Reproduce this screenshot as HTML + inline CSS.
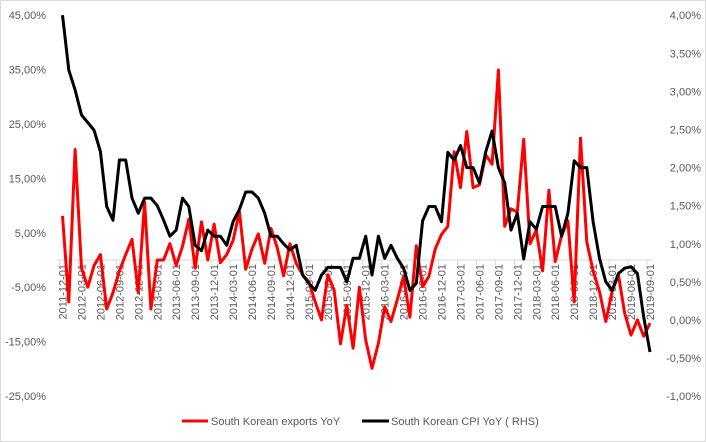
<!DOCTYPE html>
<html><head><meta charset="utf-8"><style>
html,body{margin:0;padding:0;background:#fff}
svg{display:block;font-family:"Liberation Sans",sans-serif}
</style></head><body>
<svg id="chart" width="706" height="442" viewBox="0 0 706 442">
<rect x="0.5" y="0.5" width="705" height="441" fill="#fff" stroke="#d9d9d9"/>
<g id="axes"></g><g id="series"></g>
<g>
<line x1="182" y1="421" x2="208" y2="421" stroke="#ff0000" stroke-width="3"/>
<text x="211" y="425" font-size="11" fill="#595959">South Korean exports YoY</text>
<line x1="362" y1="421" x2="389" y2="421" stroke="#000" stroke-width="3"/>
<text x="391" y="425" font-size="11" fill="#595959">South Korean CPI YoY ( RHS)</text>
</g>
</svg>
<script>
const startYear = 2011, startMonth = 12;
const exportsYoY = [8.1,-7.7,20.3,-1.5,-5,-1,1,-9,-6,-2,1,3.8,-6,10.7,-9,0,0,3,-1,2.5,7.5,-1.5,7,0,6.6,-0.5,1,3.6,8.9,-1.7,2,4.8,-0.6,5.8,2.2,-2.9,3,-0.6,-2.7,-4,-7.7,-11,-2.7,-5.5,-15.4,-8.3,-16.2,-5,-14.7,-19.9,-15.3,-8.6,-11.3,-7.3,-3,-10.5,2.6,-4.9,-3,2,4.7,6.2,19.9,13.3,23.6,13.3,13.8,19.3,17.6,34.9,6.2,9.4,8.8,22.2,3,5.5,-2,12.8,-0.3,4.5,7.2,-7.7,22.4,3.3,-2,-5.8,-11.3,-5.8,-2.7,-9.8,-13.8,-11,-14,-11.6];
const cpiYoY = [4.0,3.28,3.02,2.69,2.59,2.49,2.21,1.49,1.31,2.1,2.1,1.6,1.4,1.6,1.6,1.5,1.31,1.1,1.18,1.6,1.49,0.98,0.91,1.18,1.1,1.1,0.98,1.29,1.45,1.68,1.68,1.6,1.4,1.1,1.1,1.0,0.92,0.98,0.59,0.48,0.39,0.59,0.69,0.69,0.69,0.5,0.81,0.81,1.1,0.59,1.1,0.81,0.98,0.81,0.68,0.39,0.48,1.3,1.49,1.49,1.29,2.2,2.1,2.29,2.0,2.0,1.8,2.21,2.48,2.0,1.8,1.18,1.4,0.8,1.29,1.19,1.49,1.49,1.49,1.1,1.4,2.09,2.0,2.0,1.29,0.81,0.5,0.39,0.61,0.68,0.7,0.61,0.04,-0.42];
const leftTicks = [45,35,25,15,5,-5,-15,-25];
const rightTicks = [4.0,3.5,3.0,2.5,2.0,1.5,1.0,0.5,0.0,-0.5,-1.0];
const NS='http://www.w3.org/2000/svg';
const n = exportsYoY.length;
const xS = i => 62.5 + i*(650-62.5)/(n-1);
const yL = v => 260 - v*5.443;
const yR = v => 320 - v*76.2;
const axes = document.getElementById('axes'), series = document.getElementById('series');
function mk(t,a,p){const e=document.createElementNS(NS,t);for(const k in a)e.setAttribute(k,a[k]);p.appendChild(e);return e;}
const fmt = v => v.toFixed(2).replace('.',',')+'%';
leftTicks.forEach(v=>{
  const t=mk('text',{x:46,y:yL(v)+4,'text-anchor':'end','font-size':11,fill:'#595959'},axes);
  t.textContent=fmt(v);
  
  
});
rightTicks.forEach(v=>{
  const t=mk('text',{x:701,y:yR(v)+4,'text-anchor':'end','font-size':11,fill:'#595959'},axes);
  t.textContent=fmt(v);
  
  
});
const ax=mk('line',{x1:57,y1:260,x2:653,y2:260,stroke:'#d9d9d9','stroke-width':1},axes);


for(let i=0;i<n;i+=3){
  const x=xS(i);
  const tk=mk('line',{x1:x-3,y1:260,x2:x-3,y2:265,stroke:'#d9d9d9'},axes);
  
  
  let m=startMonth+i, y=startYear+Math.floor((m-1)/12); m=((m-1)%12)+1;
  const lbl=mk('text',{x:0,y:0,'text-anchor':'end','font-size':11,fill:'#595959',transform:`translate(${x+4},264) rotate(-90)`},axes);
  lbl.textContent=`${y}-${String(m).padStart(2,'0')}-01`;
  
  
}
const red=mk('polyline',{points:exportsYoY.map((v,i)=>xS(i).toFixed(1)+','+yL(v).toFixed(1)).join(' '),fill:'none',stroke:'#ff0000','stroke-width':3,'stroke-linejoin':'round'},series);


const blk=mk('polyline',{points:cpiYoY.map((v,i)=>xS(i).toFixed(1)+','+yR(v).toFixed(1)).join(' '),fill:'none',stroke:'#000','stroke-width':3,'stroke-linejoin':'round'},series);


</script>
</body></html>
